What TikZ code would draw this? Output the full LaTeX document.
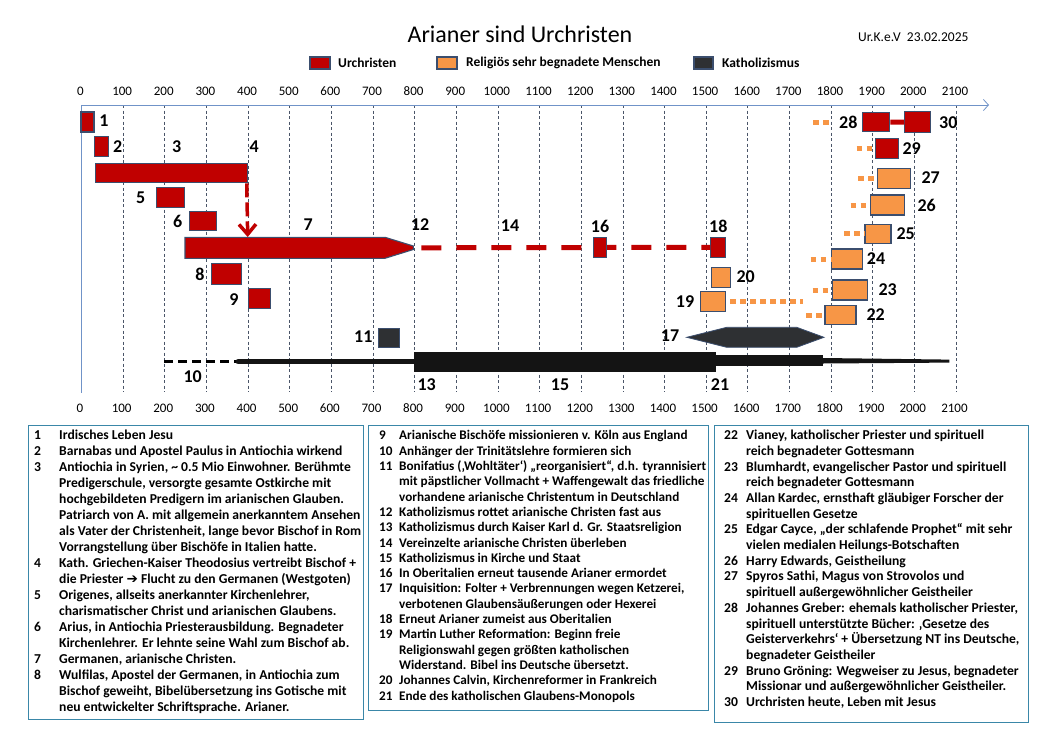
\documentclass[tikz,border=0pt]{standalone}
\usepackage{fontspec}
\setmainfont{Carlito}
\newfontfamily\symfont{DejaVu Sans}
\usetikzlibrary{arrows.meta}
\usetikzlibrary{calc}

\definecolor{urred}{HTML}{C00000}
\definecolor{urorange}{HTML}{F79646}
\definecolor{katgrey}{HTML}{2E3033}
\definecolor{barline}{HTML}{3B4E6E}
\definecolor{axisblue}{HTML}{7093C8}
\definecolor{gridgrey}{HTML}{4A5568}
\definecolor{boxteal}{HTML}{3A87A8}

\begin{document}
\begin{tikzpicture}[x=1pt,y=-1pt,
	bar/.style={draw=barline,line width=1.1pt,inner sep=0pt},
	rbar/.style={bar,fill=urred},
	obar/.style={bar,fill=urorange},
	kbar/.style={bar,fill=katgrey},
	num/.style={font=\fontsize{18}{18}\selectfont\bfseries,inner sep=0pt},
	yr/.style={font=\fontsize{13}{13}\selectfont,inner sep=0pt},
	leg/.style={font=\fontsize{13.5}{13.5}\selectfont\bfseries,anchor=west,inner sep=0pt},
	infobox/.style={draw=boxteal,line width=0.9pt,anchor=north west,inner sep=0pt},
	info/.style={anchor=north west,inner sep=0pt},
	odots/.style={urorange,line width=5pt,dash pattern=on 5.5pt off 4.5pt},
	reddash/.style={urred,line width=5pt,dash pattern=on 20pt off 15pt}]
\useasboundingbox (0,0) rectangle (1058,737);

% title and legend
\node[font=\fontsize{24}{24}\selectfont,inner sep=0pt] (title) at (520,34) {Arianer sind Urchristen};
\node[font=\fontsize{13.5}{13.5}\selectfont,anchor=west,inner sep=0pt] (date) at (858,37) {Ur.K.e.V\ \ 23.02.2025};
\node[rbar,minimum width=20,minimum height=12] (legr) at (320,63) {};
\node[leg] (legrt) at (338,63) {Urchristen};
\node[obar,minimum width=20,minimum height=12] (lego) at (447,63) {};
\node[leg] (legot) at (466,63) {Religiös sehr begnadete Menschen};
\node[kbar,minimum width=19,minimum height=12] (legk) at (703.5,63) {};
\node[leg] (legkt) at (722,63) {Katholizismus};

% axis and grid
\foreach \k in {1,...,21} {
	\pgfmathsetmacro\xx{81.5+41.64*\k}
	\draw[gridgrey,line width=0.6pt,dash pattern=on 3pt off 2.5pt] (\xx,105) -- (\xx,392);
}
\foreach \k in {0,...,21} {
	\pgfmathsetmacro\xx{81.5+41.64*\k}
	\node[yr] (top\k) at (\xx-1,91) {\the\numexpr\k*100\relax};
	\node[yr] (bot\k) at (\xx-1.5,408) {\the\numexpr\k*100\relax};
}
\draw[axisblue,line width=0.8pt,-{Straight Barb[length=5pt,width=11pt]}] (81.5,105) -- (989,105);
\draw[axisblue,line width=0.8pt] (81.5,105) -- (81.5,393);

% Urchristen
\node[rbar,minimum width=13,minimum height=20] (b1) at (87.5,122) {};
\node[rbar,minimum width=14,minimum height=20] (b2) at (101.3,146.7) {};
\node[rbar,minimum width=152,minimum height=19] (b3) at (171.7,173.3) {};
\node[rbar,minimum width=28,minimum height=20] (b5) at (170.5,197.5) {};
\node[rbar,minimum width=27,minimum height=19] (b6) at (203.3,221.3) {};
\filldraw[fill=urred,draw=barline,line width=1.1pt] (185,237.3) -- (385,237.3) -- (413.3,246) -- (413.3,249.5) -- (385,258.3) -- (185,258.3) -- cycle;
\coordinate (b7tip) at (413.3,247.8);
\coordinate (b7top) at (247.7,237);
\node[rbar,minimum width=30,minimum height=21] (b8) at (226.7,273.7) {};
\node[rbar,minimum width=22,minimum height=20] (b9) at (259.8,298.3) {};
\node[rbar,minimum width=15,minimum height=20] (b18) at (718.3,247.3) {};
\draw[urred,line width=3.5pt,dash pattern=on 14pt off 5pt,-{Straight Barb[length=10pt,width=17pt]}] (b3.south east) ++(-1.5,0) -- (b7top);
\draw[reddash,dash phase=27pt] (b7tip) -- (b18.west);
\node[rbar,minimum width=13,minimum height=20] (b16) at (600,247.3) {};

% Religioes begnadete Menschen
\node[obar,minimum width=19,minimum height=20] (b20) at (721.3,277.3) {};
\node[obar,minimum width=25,minimum height=20] (b19) at (713.2,301.7) {};
\coordinate (d19) at (803,301.7);
\draw[odots,shorten <=4pt] (b19.east) -- (d19);
\node[rbar,minimum width=27,minimum height=19] (b28) at (876.3,122.2) {};
\node[rbar,minimum width=26,minimum height=21] (b30) at (917.8,122) {};
\draw[urred,line width=5pt] (b28.east) -- (b30.west);
\node[rbar,minimum width=23,minimum height=20] (b29) at (886.8,148.5) {};
\node[obar,minimum width=33,minimum height=20] (b27) at (894.3,178.2) {};
\node[obar,minimum width=34,minimum height=20] (b26) at (887.5,205) {};
\node[obar,minimum width=26,minimum height=19] (b25) at (878,233.7) {};
\node[obar,minimum width=31,minimum height=20] (b24) at (847,259) {};
\node[obar,minimum width=35,minimum height=20] (b23) at (850,290) {};
\node[obar,minimum width=31,minimum height=19] (b22) at (840.5,315.3) {};
\coordinate (d28) at (813,122.3);
\coordinate (d29) at (856.7,148.5);
\coordinate (d27) at (858,178.2);
\coordinate (d26) at (850.7,205);
\coordinate (d25) at (844,233.7);
\coordinate (d24) at (810.7,259);
\coordinate (d23) at (812.7,290);
\coordinate (d22) at (806,315.3);
\draw[odots] (d28) -- (830,122.3);
\draw[odots] (d29) -- (b29.west);
\draw[odots] (d27) -- (b27.west);
\draw[odots] (d26) -- (b26.west);
\draw[odots] (d25) -- (b25.west);
\draw[odots] (d24) -- (b24.west);
\draw[odots] (d23) -- (b23.west);
\draw[odots] (d22) -- (b22.west);

% Katholizismus
\node[kbar,minimum width=21,minimum height=19] (b11) at (388.8,337.8) {};
\filldraw[fill=katgrey,draw=barline,line width=0.8pt] (686.7,337.3) -- (726.7,327.3) -- (796.7,327.3) -- (824,337.3) -- (796.7,347.3) -- (726.7,347.3) -- cycle;
\coordinate (k10a) at (164.3,361.7);
\coordinate (k10b) at (238.3,361.7);
\node[fill=black!92,minimum width=301.7,minimum height=20,inner sep=0pt] (k13) at (565.2,361.7) {};
\node[fill=black!92,minimum width=106.7,minimum height=11,inner sep=0pt] (k21) at (769.3,360.5) {};
\draw[black,line width=2.5pt,dash pattern=on 9pt off 5pt] (k10a) -- (k10b);
\draw[black!92,line width=5.5pt,line cap=round] (k10b) -- (k13.west);
\fill[black!92] ($(k21.east)+(0,-2.5)$) -- (949.3,359.6) -- (949.3,362.6) -- ($(k21.east)+(0,3)$) -- cycle;

% numbers
\node[num] (l1) at (104,121) {1};
\node[num] (l2) at (117.7,146.7) {2};
\node[num] (l3) at (176.7,146.7) {3};
\node[num] (l4) at (254.3,146.7) {4};
\node[num] (l5) at (140.7,197.3) {5};
\node[num] (l6) at (177.7,221.7) {6};
\node[num] (l7) at (308.3,225) {7};
\node[num] (l8) at (200,274) {8};
\node[num] (l9) at (234,300) {9};
\node[num] (l10) at (192.7,376.7) {10};
\node[num] (l11) at (363.3,336.7) {11};
\node[num] (l12) at (420,225) {12};
\node[num] (l13) at (426.7,385) {13};
\node[num] (l14) at (510,226) {14};
\node[num] (l15) at (560,385) {15};
\node[num] (l16) at (600,226) {16};
\node[num] (l17) at (670,336) {17};
\node[num] (l18) at (718.3,226) {18};
\node[num] (l19) at (685,301.7) {19};
\node[num] (l20) at (745.7,276.7) {20};
\node[num] (l21) at (720,385) {21};
\node[num] (l22) at (875.7,315) {22};
\node[num] (l23) at (887.7,290) {23};
\node[num] (l24) at (876,258.3) {24};
\node[num] (l25) at (905.7,234) {25};
\node[num] (l26) at (926.7,205) {26};
\node[num] (l27) at (930.7,177.3) {27};
\node[num] (l28) at (848.3,122.3) {28};
\node[num] (l29) at (911.7,148.3) {29};
\node[num] (l30) at (948.3,122.3) {30};

% explanation boxes
\node[infobox,minimum width=335,minimum height=294] (box1) at (28,425) {};
\node[infobox,minimum width=340,minimum height=285] (box2) at (368,425) {};
\node[infobox,minimum width=314,minimum height=297] (box3) at (714,425) {};

\node[info,font=\fontsize{13.6}{15.95}\selectfont\bfseries] (txt1) at (34,428.5) {%
\begin{tabular}{@{}p{25pt}@{}l@{}}
1 & Irdisches Leben Jesu\\
2 & Barnabas und Apostel Paulus in Antiochia wirkend\\
3 & Antiochia in Syrien, \textasciitilde{} 0.5 Mio Einwohner. Berühmte\\
  & Predigerschule, versorgte gesamte Ostkirche mit\\
  & hochgebildeten Predigern im arianischen Glauben.\\
  & Patriarch von A. mit allgemein anerkanntem Ansehen\\
  & als Vater der Christenheit, lange bevor Bischof in Rom\\
  & Vorrangstellung über Bischöfe in Italien hatte.\\
4 & Kath. Griechen-Kaiser Theodosius vertreibt Bischof +\\
  & die Priester {\symfont ➔} Flucht zu den Germanen (Westgoten)\\
5 & Origenes, allseits anerkannter Kirchenlehrer,\\
  & charismatischer Christ und arianischen Glaubens.\\
6 & Arius, in Antiochia Priesterausbildung. Begnadeter\\
  & Kirchenlehrer. Er lehnte seine Wahl zum Bischof ab.\\
7 & Germanen, arianische Christen.\\
8 & Wulfilas, Apostel der Germanen, in Antiochia zum\\
  & Bischof geweiht, Bibelübersetzung ins Gotische mit\\
  & neu entwickelter Schriftsprache. Arianer.
\end{tabular}};

\node[info,font=\fontsize{13.2}{15.3}\selectfont\bfseries] (txt2) at (379,429) {%
\begin{tabular}{@{}p{20pt}@{}l@{}}
9  & Arianische Bischöfe missionieren v. Köln aus England\\
10 & Anhänger der Trinitätslehre formieren sich\\
11 & Bonifatius (‚Wohltäter‘) „reorganisiert“, d.h. tyrannisiert\\
   & mit päpstlicher Vollmacht + Waffengewalt das friedliche\\
   & vorhandene arianische Christentum in Deutschland\\
12 & Katholizismus rottet arianische Christen fast aus\\
13 & Katholizismus durch Kaiser Karl d. Gr. Staatsreligion\\
14 & Vereinzelte arianische Christen überleben\\
15 & Katholizismus in Kirche und Staat\\
16 & In Oberitalien erneut tausende Arianer ermordet\\
17 & Inquisition: Folter + Verbrennungen wegen Ketzerei,\\
   & verbotenen Glaubensäußerungen oder Hexerei\\
18 & Erneut Arianer zumeist aus Oberitalien\\
19 & Martin Luther Reformation: Beginn freie\\
   & Religionswahl gegen größten katholischen\\
   & Widerstand. Bibel ins Deutsche übersetzt.\\
20 & Johannes Calvin, Kirchenreformer in Frankreich\\
21 & Ende des katholischen Glaubens-Monopols
\end{tabular}};

\node[info,font=\fontsize{13.6}{15.7}\selectfont\bfseries] (txt3) at (724,428.5) {%
\begin{tabular}{@{}p{22pt}@{}l@{}}
22 & Vianey, katholischer Priester und spirituell\\
   & reich begnadeter Gottesmann\\
23 & Blumhardt, evangelischer Pastor und spirituell\\
   & reich begnadeter Gottesmann\\
24 & Allan Kardec, ernsthaft gläubiger Forscher der\\
   & spirituellen Gesetze\\
25 & Edgar Cayce, „der schlafende Prophet“ mit sehr\\
   & vielen medialen Heilungs-Botschaften\\
26 & Harry Edwards, Geistheilung\\
27 & Spyros Sathi, Magus von Strovolos und\\
   & spirituell außergewöhnlicher Geistheiler\\
28 & Johannes Greber: ehemals katholischer Priester,\\
   & spirituell unterstützte Bücher: ‚Gesetze des\\
   & Geisterverkehrs‘ + Übersetzung NT ins Deutsche,\\
   & begnadeter Geistheiler\\
29 & Bruno Gröning: Wegweiser zu Jesus, begnadeter\\
   & Missionar und außergewöhnlicher Geistheiler.\\
30 & Urchristen heute, Leben mit Jesus
\end{tabular}};
\end{tikzpicture}
\end{document}
